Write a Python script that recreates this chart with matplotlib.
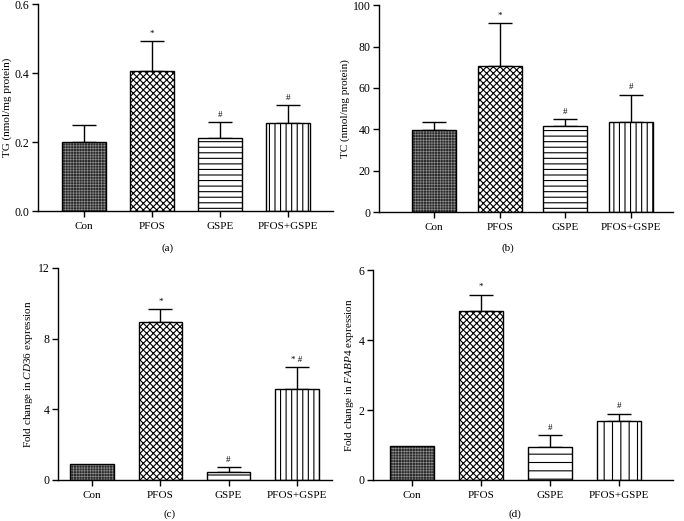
import matplotlib
matplotlib.use("Agg")
import matplotlib.pyplot as plt

plt.rcParams['font.family'] = ['Liberation Serif', 'DejaVu Serif']
plt.rcParams['mathtext.fontset'] = 'custom'
plt.rcParams['mathtext.rm'] = 'Liberation Serif'
plt.rcParams['mathtext.it'] = 'Liberation Serif:italic'

groups = ['Con', 'PFOS', 'GSPE', 'PFOS+GSPE']

tg_mean = [0.200, 0.405, 0.212, 0.255]
tg_err = [0.050, 0.087, 0.045, 0.053]
tg_marks = ['', '*', '#', '#']

tc_mean = [39.7, 70.8, 41.7, 43.3]
tc_err = [3.8, 20.5, 3.4, 13.5]
tc_marks = ['', '*', '#', '#']

cd36_mean = [0.90, 8.95, 0.45, 5.15]
cd36_err = [0.0, 0.75, 0.28, 1.25]
cd36_marks = ['', '*', '#', '* #']

fabp4_mean = [0.96, 4.83, 0.93, 1.69]
fabp4_err = [0.0, 0.47, 0.35, 0.21]
fabp4_marks = ['', '*', '#', '#']

# face colour, hatch colour, hatch, hatch line width
styles = [('#2a2a2a', '#8c8c8c', '++++++', 0.45),
          ('white', 'black', 'xxxxx', 0.8),
          ('white', 'black', '---', 0.8),
          ('white', 'black', '|||', 0.8)]


def panel(rect, mean, err, marks, ylim, yticks, fmt, ylabel, xlim, width,
          tag, tag_xy, sparse=False):
    ax = fig.add_axes(rect)
    x = range(len(groups))
    for i in x:
        face, hcol, hatch, hlw = styles[i]
        if sparse and i >= 2:
            hatch = hatch[:2]
        with plt.rc_context({'hatch.linewidth': hlw}):
            ax.bar(i, mean[i], width=width, color=face, edgecolor=hcol,
                   linewidth=0, hatch=hatch, zorder=2)
        ax.bar(i, mean[i], width=width, color='none', edgecolor='black',
               linewidth=1.0, zorder=3)
        if err[i] > 0:
            ax.errorbar(i, mean[i], yerr=[[0], [err[i]]], fmt='none',
                        ecolor='black', elinewidth=1.0, capsize=8.5,
                        capthick=1.0, zorder=1)
        if marks[i]:
            ax.text(i, mean[i] + err[i] + ylim * 0.015, marks[i],
                    ha='center', va='bottom', fontsize=6.5)
    ax.set_xlim(*xlim)
    ax.set_ylim(0, ylim)
    ax.set_yticks(yticks)
    ax.set_yticklabels([fmt.format(v) for v in yticks])
    ax.set_xticks(list(x))
    ax.set_xticklabels(groups)
    ax.tick_params(labelsize=8, length=4, width=1.0, direction='out',
                   pad=2)
    ax.tick_params(axis='y', labelsize=8.5)
    ax.tick_params(axis='x', pad=4)
    ax.spines['top'].set_visible(False)
    ax.spines['right'].set_visible(False)
    ax.spines['left'].set_linewidth(1.0)
    ax.spines['bottom'].set_linewidth(1.0)
    ax.set_ylabel(ylabel, fontsize=8, labelpad=2)
    fig.text(tag_xy[0], tag_xy[1], tag, ha='center', va='center',
             fontsize=8)
    return ax


fig = plt.figure(figsize=(6.84, 5.21), dpi=100)

panel([0.0556, 0.595, 0.431, 0.397], tg_mean, tg_err, tg_marks, 0.6,
      [0.0, 0.2, 0.4, 0.6], '{:.1f}', 'TG (nmol/mg protein)',
      (-0.68, 3.66), 0.65, '(a)', (168 / 684, 1 - 248 / 521))

panel([0.554, 0.593, 0.430, 0.397], tc_mean, tc_err, tc_marks, 100,
      [0, 20, 40, 60, 80, 100], '{:.0f}', 'TC (nmol/mg protein)',
      (-0.84, 3.64), 0.67, '(b)', (508 / 684, 1 - 248 / 521))

panel([0.0848, 0.0787, 0.400, 0.407], cd36_mean, cd36_err, cd36_marks, 12,
      [0, 4, 8, 12], '{:.0f}', r'Fold change in $\mathit{CD36}$ expression',
      (-0.5, 3.51), 0.64, '(c)', (170 / 684, 1 - 514 / 521))

panel([0.545, 0.0787, 0.439, 0.403], fabp4_mean, fabp4_err, fabp4_marks, 6,
      [0, 2, 4, 6], '{:.0f}', r'Fold change in $\mathit{FABP4}$ expression',
      (-0.57, 3.78), 0.64, '(d)', (515 / 684, 1 - 514 / 521), sparse=True)

fig.savefig('out.png', dpi=100)
